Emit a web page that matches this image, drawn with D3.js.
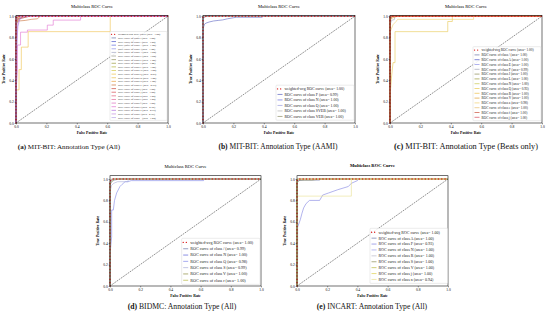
<!DOCTYPE html>
<html>
<head>
<meta charset="utf-8">
<script src="https://cdn.jsdelivr.net/npm/d3@7"></script>
<style>
  body { margin: 0; background: #fff; }
  svg { display: block; font-family: 'Liberation Serif', 'Times New Roman', serif; }
</style>
</head>
<body>
<svg id="fig" width="550" height="321"></svg>
<script>
// ---- data ----
const xTickValues = [0, 0.2, 0.4, 0.6, 0.8, 1.0];
const yTickValues = [0, 0.2, 0.4, 0.6, 0.8, 1.0];
const diagonal = [[0, 0], [1, 1]];

const captionLetters = ['(a)', '(b)', '(c)', '(d)', '(e)'];
const captionTexts = [
  'MIT-BIT: Annotation Type (All)',
  'MIT-BIT: Annotation Type (AAMI)',
  'MIT-BIT: Annotation Type (Beats only)',
  'BIDMC: Annotation Type (All)',
  'INCART: Annotation Type (All)'
];

// (a) MIT-BIT all annotation types
const classesA = ['!', '"', '+', '/', 'A', 'E', 'F', 'J', 'L', 'N', 'Q', 'R', 'S', 'V', '[', ']', 'a', 'e', 'f', 'j', 'x', '|', '~'];
const aucA = [1.00, 1.00, 1.00, 1.00, 1.00, 1.00, 1.00, 1.00, 1.00, 1.00, 0.89, 1.00, 1.00, 0.99, 1.00, 1.00, 1.00, 1.00, 1.00, 0.95, 0.99, 0.99, 1.00];
const rocA = [
  [[0, 0], [0, 0.98], [0.004, 1], [1, 1]],
  [[0, 0], [0, 0.99], [0.003, 1], [1, 1]],
  [[0, 0], [0, 0.95], [0.008, 0.98], [0.02, 1], [1, 1]],
  [[0, 0], [0, 0.99], [0.002, 1], [1, 1]],
  [[0, 0], [0, 0.9], [0.01, 0.95], [0.03, 0.98], [0.06, 0.99], [0.09, 1], [1, 1]],
  [[0, 0], [0, 0.97], [0.006, 1], [1, 1]],
  [[0, 0], [0, 0.93], [0.01, 0.96], [0.03, 0.98], [0.05, 1], [1, 1]],
  [[0, 0], [0, 0.96], [0.01, 0.99], [0.02, 1], [1, 1]],
  [[0, 0], [0, 1], [1, 1]],
  [[0, 0], [0, 0.97], [0.01, 0.985], [0.04, 0.995], [0.07, 1], [1, 1]],
  [[0, 0], [0.004, 0], [0.004, 0.31], [0.02, 0.31], [0.02, 0.5], [0.035, 0.5], [0.035, 0.71], [0.08, 0.71], [0.08, 0.855], [0.62, 0.855], [0.62, 1], [1, 1]],
  [[0, 0], [0, 0.99], [0.005, 1], [1, 1]],
  [[0, 0], [0, 0.92], [0.015, 0.97], [0.04, 0.99], [0.06, 1], [1, 1]],
  [[0, 0], [0, 0.88], [0.004, 0.94], [0.02, 0.955], [0.06, 0.96], [0.1, 0.97], [0.14, 0.975], [0.16, 1], [1, 1]],
  [[0, 0], [0, 0.95], [0.01, 0.975], [0.05, 0.985], [0.09, 1], [1, 1]],
  [[0, 0], [0, 0.98], [0.01, 0.99], [0.015, 1], [1, 1]],
  [[0, 0], [0, 0.94], [0.01, 0.97], [0.025, 0.99], [0.035, 1], [1, 1]],
  [[0, 0], [0, 1], [1, 1]],
  [[0, 0], [0, 0.97], [0.008, 1], [1, 1]],
  [[0, 0], [0, 0.3], [0.01, 0.5], [0.01, 0.73], [0.03, 0.73], [0.03, 0.85], [0.075, 0.85], [0.075, 0.87], [0.206, 0.87], [0.206, 0.916], [0.245, 0.916], [0.245, 0.963], [0.425, 0.963], [0.425, 1], [1, 1]],
  [[0, 0], [0, 0.6], [0.008, 0.8], [0.012, 0.9], [0.02, 0.95], [0.03, 0.98], [0.05, 1], [1, 1]],
  [[0, 0], [0, 0.45], [0.006, 0.75], [0.01, 0.92], [0.02, 0.97], [0.035, 1], [1, 1]],
  [[0, 0], [0, 0.99], [0.004, 1], [1, 1]]
];
const weightedAucA = 1.00;
const weightedRocA = [[0, 0], [0, 0.985], [0.005, 0.995], [0.02, 1], [1, 1]];

// (b) MIT-BIT AAMI classes
const classesB = ['F', 'N', 'Q', 'SVEB', 'VEB'];
const aucB = [0.99, 1.00, 1.00, 1.00, 1.00];
const rocB = [
  [[0, 0], [0, 0.85], [0.004, 0.9], [0.01, 0.925], [0.02, 0.935], [0.04, 0.945], [0.07, 0.955], [0.1, 0.96], [0.13, 0.965], [0.16, 0.975], [0.2, 0.985], [0.22, 0.99], [0.39, 0.99], [0.39, 1], [1, 1]],
  [[0, 0], [0, 0.98], [0.01, 0.99], [0.02, 1], [1, 1]],
  [[0, 0], [0, 0.99], [0.005, 1], [1, 1]],
  [[0, 0], [0, 0.97], [0.01, 0.99], [0.03, 1], [1, 1]],
  [[0, 0], [0, 0.995], [0.005, 1], [1, 1]]
];
const weightedAucB = 1.00;
const weightedRocB = [[0, 0], [0, 0.99], [0.01, 1], [1, 1]];

// (c) MIT-BIT beats only
const classesC = ['/', 'A', 'E', 'F', 'J', 'L', 'N', 'Q', 'R', 'V', 'a', 'e', 'f', 'j'];
const aucC = [1.00, 1.00, 1.00, 0.99, 1.00, 1.00, 1.00, 0.93, 1.00, 1.00, 0.98, 1.00, 1.00, 1.00];
const rocC = [
  [[0, 0], [0, 0.99], [0.004, 1], [1, 1]],
  [[0, 0], [0, 0.96], [0.01, 0.99], [0.02, 1], [1, 1]],
  [[0, 0], [0, 0.98], [0.006, 1], [1, 1]],
  [[0, 0], [0, 0.92], [0.01, 0.96], [0.03, 0.97], [0.03, 1], [1, 1]],
  [[0, 0], [0, 1], [1, 1]],
  [[0, 0], [0, 0.99], [0.003, 1], [1, 1]],
  [[0, 0], [0, 0.97], [0.01, 0.99], [0.03, 1], [1, 1]],
  [[0, 0], [0, 0.25], [0.01, 0.43], [0.02, 0.565], [0.033, 0.565], [0.033, 0.855], [0.38, 0.855], [0.38, 0.95], [0.41, 0.95], [0.41, 1], [1, 1]],
  [[0, 0], [0, 0.98], [0.01, 1], [1, 1]],
  [[0, 0], [0, 0.95], [0.01, 0.98], [0.03, 0.99], [0.05, 1], [1, 1]],
  [[0, 0], [0, 0.85], [0.02, 0.92], [0.04, 0.95], [0.05, 0.97], [0.55, 0.97], [0.55, 1], [1, 1]],
  [[0, 0], [0, 0.99], [0.005, 1], [1, 1]],
  [[0, 0], [0, 0.97], [0.008, 1], [1, 1]],
  [[0, 0], [0, 1], [1, 1]]
];
const weightedAucC = 1.00;
const weightedRocC = [[0, 0], [0, 0.99], [0.01, 1], [1, 1]];

// (d) BIDMC
const classesD = ['/', 'N', 'Q', 'S', 'V', 'r'];
const aucD = [0.99, 1.00, 0.98, 0.99, 1.00, 1.00];
const rocD = [
  [[0, 0], [0, 0.93], [0.005, 0.96], [0.015, 0.98], [0.03, 0.99], [0.06, 1], [1, 1]],
  [[0, 0], [0, 0.97], [0.01, 0.99], [0.02, 1], [1, 1]],
  [[0, 0], [0, 0.3], [0.011, 0.46], [0.011, 0.71], [0.022, 0.71], [0.03, 0.8], [0.044, 0.87], [0.066, 0.93], [0.08, 0.95], [0.1, 0.975], [0.12, 0.975], [0.14, 0.985], [0.62, 0.985], [0.62, 1], [1, 1]],
  [[0, 0], [0, 0.88], [0.01, 0.94], [0.025, 0.96], [0.05, 0.975], [0.12, 0.975], [0.12, 1], [1, 1]],
  [[0, 0], [0, 0.98], [0.01, 1], [1, 1]],
  [[0, 0], [0, 0.96], [0.02, 0.99], [0.03, 1], [1, 1]]
];
const weightedAucD = 1.00;
const weightedRocD = [[0, 0], [0, 0.98], [0.01, 0.995], [0.02, 1], [1, 1]];

// (e) INCART
const classesE = ['A', 'F', 'N', 'R', 'S', 'V', 'j', 'n'];
const aucE = [1.00, 0.93, 1.00, 1.00, 1.00, 1.00, 1.00, 0.94];
const rocE = [
  [[0, 0], [0, 0.97], [0.01, 0.985], [0.05, 0.99], [0.15, 0.99], [0.15, 1], [1, 1]],
  [[0, 0], [0.004, 0.28], [0.004, 0.55], [0.022, 0.62], [0.033, 0.68], [0.044, 0.73], [0.06, 0.77], [0.083, 0.8], [0.15, 0.8], [0.17, 0.85], [0.21, 0.87], [0.27, 0.9], [0.34, 0.93], [0.36, 0.96], [0.4, 0.985], [0.41, 1], [1, 1]],
  [[0, 0], [0, 0.98], [0.01, 0.99], [0.03, 1], [1, 1]],
  [[0, 0], [0, 1], [1, 1]],
  [[0, 0], [0, 0.97], [0.02, 0.99], [0.1, 0.99], [0.15, 1], [1, 1]],
  [[0, 0], [0, 0.99], [0.005, 1], [1, 1]],
  [[0, 0], [0, 1], [1, 1]],
  [[0, 0], [0, 0.84], [0.36, 0.84], [0.36, 1], [1, 1]]
];
const weightedAucE = 1.00;
const weightedRocE = [[0, 0], [0, 0.985], [0.01, 1], [1, 1]];

// ---- styles ----
const weightedColor = '#dd2222';
const colorsA = ['#6a74a6', '#4a55c8', '#5f68e0', '#8e90e6', '#a3a7c4', '#9b9b8c', '#8d8d55', '#9a9a3c', '#b3b33a',
  '#d4c94a', '#eec04a', '#ecc04a', '#eaa23e', '#c9703a', '#c8453a', '#d64a50', '#e0607a', '#e36a9a', '#dd6fc0',
  '#e070d0', '#b070e0', '#c38ce0', '#b8a4e6'];
const colorsB = ['#5a62c0', '#6a6ee0', '#9c9ee0', '#b0b0b0', '#8c8c66'];
const colorsC = ['#6a74a6', '#4a55c8', '#8e90e6', '#a0a4b8', '#8d8d55', '#9a9a3c', '#c8c850', '#e8c850', '#ecc04a',
  '#e0a030', '#f0d070', '#e8c070', '#c8503a', '#d84a5a'];
const colorsD = ['#6a74a6', '#5a62d8', '#7f86e8', '#a8acd8', '#8d8d40', '#b8b840'];
const colorsE = ['#6a74a6', '#7f80e0', '#9a9ee8', '#b8b8c8', '#8d8d55', '#b8b840', '#e0d050', '#e8e090'];

const svg = d3.select('#fig');
const fmt = d3.format('.2f');
const tickFmt = d3.format('.1f');

class RocPanel {
  constructor(frame, classes, aucs, curves, colors, weightedAuc, weightedCurve) {
    this.frame = frame;
    this.classes = classes;
    this.aucs = aucs;
    this.curves = curves;
    this.colors = colors;
    this.weightedAuc = weightedAuc;
    this.weightedCurve = weightedCurve;
  }

  draw() {
    const f = this.frame;
    const g = svg.append('g');
    const x = d3.scaleLinear().domain([0, 1]).range([f.left, f.right]);
    const y = d3.scaleLinear().domain([0, f.yMax]).range([f.bottom, f.top]);
    const line = d3.line().x(d => x(d[0])).y(d => y(d[1]));

    g.selectAll('path.roc')
      .data(this.curves)
      .join('path').classed('roc', true)
      .attr('d', line)
      .attr('fill', 'none')
      .attr('stroke', (d, i) => this.colors[i])
      .attr('stroke-width', 0.7)
      .attr('opacity', 0.85);

    g.append('path')
      .attr('d', line(diagonal))
      .attr('fill', 'none')
      .attr('stroke', '#222')
      .attr('stroke-width', 0.5)
      .attr('stroke-dasharray', '1.8,0.9');

    g.append('path')
      .attr('d', line(this.weightedCurve))
      .attr('fill', 'none')
      .attr('stroke', weightedColor)
      .attr('stroke-width', 1.5)
      .attr('stroke-linecap', 'round')
      .attr('stroke-dasharray', '0.1,3.2');

    g.append('rect')
      .attr('x', f.left).attr('y', f.top)
      .attr('width', f.right - f.left).attr('height', f.bottom - f.top)
      .attr('fill', 'none').attr('stroke', '#111').attr('stroke-width', 0.6);

    const xAxis = g.append('g')
      .attr('transform', 'translate(0,' + f.bottom + ')')
      .call(d3.axisBottom(x).tickValues(xTickValues).tickSize(1.4).tickPadding(0.8).tickFormat(tickFmt));
    const yAxis = g.append('g')
      .attr('transform', 'translate(' + f.left + ',0)')
      .call(d3.axisLeft(y).tickValues(yTickValues).tickSize(1.4).tickPadding(0.8).tickFormat(tickFmt));
    [xAxis, yAxis].forEach(a => {
      a.attr('font-family', null).attr('font-size', 3.6);
      a.select('.domain').remove();
      a.selectAll('line').attr('stroke-width', 0.4);
    });

    const cx = (f.left + f.right) / 2;
    g.append('text')
      .attr('x', cx).attr('y', f.top - f.titleGap)
      .attr('text-anchor', 'middle')
      .attr('font-size', 4.6)
      .attr('font-weight', f.titleBold ? 'bold' : 'normal')
      .text('Multiclass ROC Curve');

    g.append('text')
      .attr('x', cx).attr('y', f.bottom + f.xLabelGap)
      .attr('text-anchor', 'middle')
      .attr('font-size', 3.8).attr('font-weight', 'bold')
      .text('False Positive Rate');

    g.append('text')
      .attr('transform', 'translate(' + (f.left - 11) + ',' + ((f.top + f.bottom) / 2) + '), rotate(270)')
      .attr('text-anchor', 'middle')
      .attr('font-size', 3.8).attr('font-weight', 'bold')
      .text('True Positive Rate');

    this.drawLegend(g);

    const cap = g.append('text')
      .attr('x', f.capX).attr('y', f.capY)
      .attr('text-anchor', 'middle')
      .attr('font-size', f.capSize)
      .attr('fill', '#111');
    cap.append('tspan').attr('font-weight', 'bold').text(f.capLetter);
    cap.append('tspan').text(' ' + f.capText);
  }

  drawLegend(g) {
    const L = this.frame.legend;
    const entries = [{ label: 'weighted-avg ROC curve (area= ' + fmt(this.weightedAuc) + ')', color: weightedColor, dotted: true }]
      .concat(this.classes.map((c, i) => ({ label: 'ROC curve of class ' + c + ' (area= ' + fmt(this.aucs[i]) + ')', color: this.colors[i] })));
    const pad = 1;
    const lg = g.append('g').attr('transform', 'translate(' + L.x + ',' + L.y + ')');
    lg.append('rect')
      .attr('width', L.w).attr('height', entries.length * L.rowH + 2 * pad)
      .attr('rx', 0.8)
      .attr('fill', '#fff').attr('fill-opacity', 0.85)
      .attr('stroke', '#cfcfcf').attr('stroke-width', 0.4);
    const rows = lg.selectAll('g.row')
      .data(entries)
      .join('g').classed('row', true)
      .attr('transform', (d, i) => 'translate(0,' + (pad + L.rowH * (i + 0.5)) + ')');
    rows.append('line')
      .attr('x1', 1.5).attr('x2', 1.5 + L.handle)
      .attr('stroke', d => d.color)
      .attr('stroke-width', d => d.dotted ? 1.3 : 0.7)
      .attr('stroke-linecap', d => d.dotted ? 'round' : 'butt')
      .attr('stroke-dasharray', d => d.dotted ? '0.1,3' : null);
    rows.append('text')
      .attr('x', L.handle + 3.5)
      .attr('dy', '0.35em')
      .attr('font-size', L.font)
      .attr('fill', '#222')
      .text(d => d.label);
  }
}

const frames = [
  { left: 16, right: 168, top: 15.3, bottom: 123, yMax: 1.008, titleGap: 7.6, xLabelGap: 11.4, titleBold: false,
    capX: 69, capY: 148.5, capSize: 7.1, legend: { x: 110, y: 31.5, w: 57, rowH: 3.62, font: 2.75, handle: 4.5 } },
  { left: 203, right: 355, top: 15.3, bottom: 123, yMax: 1.008, titleGap: 7.6, xLabelGap: 11.4, titleBold: false,
    capX: 278, capY: 148.5, capSize: 7.5, legend: { x: 276, y: 85.2, w: 78, rowH: 5.5, font: 3.9, handle: 5 } },
  { left: 390, right: 542, top: 15.3, bottom: 123, yMax: 1.008, titleGap: 7.6, xLabelGap: 11.4, titleBold: false,
    capX: 466, capY: 148.5, capSize: 8.3, legend: { x: 473, y: 46.7, w: 68, rowH: 4.8, font: 3.4, handle: 5 } },
  { left: 110, right: 261, top: 175.7, bottom: 286, yMax: 1.031, titleGap: 7.4, xLabelGap: 10.8, titleBold: false,
    capX: 182, capY: 308.5, capSize: 7.7, legend: { x: 181.7, y: 238.3, w: 78.3, rowH: 6.3, font: 4.1, handle: 5 } },
  { left: 297, right: 448, top: 175.7, bottom: 286, yMax: 1.031, titleGap: 8.5, xLabelGap: 10.8, titleBold: true,
    capX: 372, capY: 308.5, capSize: 7.7, legend: { x: 370, y: 228.3, w: 77.7, rowH: 5.9, font: 4.0, handle: 5 } }
];
frames.forEach((f, i) => { f.capLetter = captionLetters[i]; f.capText = captionTexts[i]; });

new RocPanel(frames[0], classesA, aucA, rocA, colorsA, weightedAucA, weightedRocA).draw();
new RocPanel(frames[1], classesB, aucB, rocB, colorsB, weightedAucB, weightedRocB).draw();
new RocPanel(frames[2], classesC, aucC, rocC, colorsC, weightedAucC, weightedRocC).draw();
new RocPanel(frames[3], classesD, aucD, rocD, colorsD, weightedAucD, weightedRocD).draw();
new RocPanel(frames[4], classesE, aucE, rocE, colorsE, weightedAucE, weightedRocE).draw();
</script>
</body>
</html>
